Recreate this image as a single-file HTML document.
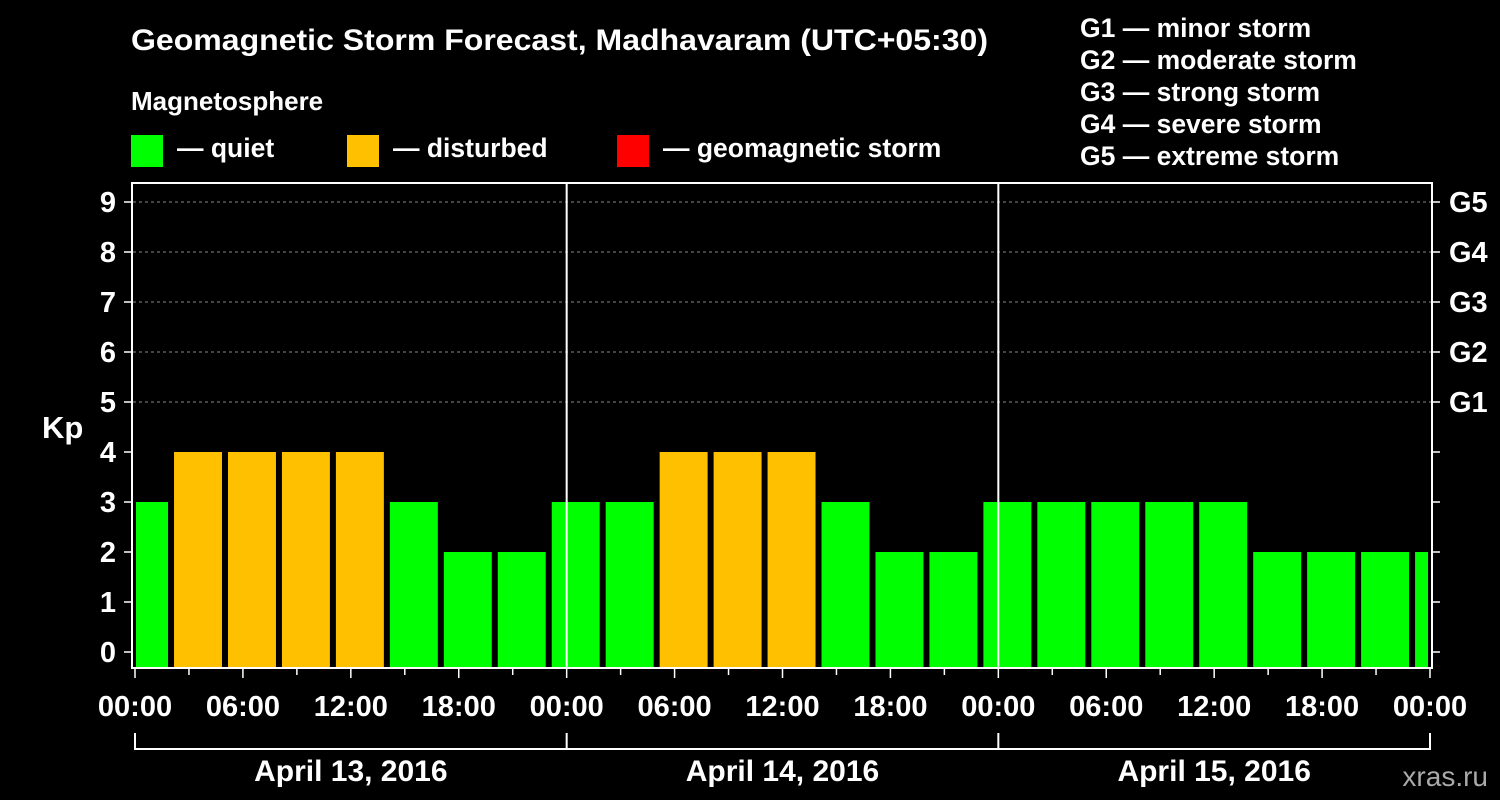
<!DOCTYPE html>
<html><head><meta charset="utf-8"><style>
html,body{margin:0;padding:0;background:#000;}
svg{display:block;font-family:"Liberation Sans",sans-serif;font-weight:bold;}
</style></head><body>
<svg id="chart" width="1500" height="800" viewBox="0 0 1500 800" xmlns="http://www.w3.org/2000/svg">
<rect width="1500" height="800" fill="#000"/>
<text x="131" y="50" fill="#fff" font-size="30" textLength="857" lengthAdjust="spacingAndGlyphs">Geomagnetic Storm Forecast, Madhavaram (UTC+05:30)</text>
<text x="131" y="110" fill="#fff" font-size="26">Magnetosphere</text>
<g><rect x="131" y="135" width="32" height="32" fill="#00ff00"/><text x="177" y="157" fill="#fff" font-size="26.5">— quiet</text></g>
<g><rect x="347" y="135" width="32" height="32" fill="#ffc000"/><text x="393" y="157" fill="#fff" font-size="26.5">— disturbed</text></g>
<g><rect x="617" y="135" width="32" height="32" fill="#ff0000"/><text x="663" y="157" fill="#fff" font-size="26.5">— geomagnetic storm</text></g>
<g fill="#fff" font-size="26.5">
<text x="1080" y="37">G1 — minor storm</text>
<text x="1080" y="69">G2 — moderate storm</text>
<text x="1080" y="101">G3 — strong storm</text>
<text x="1080" y="133">G4 — severe storm</text>
<text x="1080" y="165">G5 — extreme storm</text>
</g>
<text x="42" y="438" fill="#fff" font-size="31">Kp</text>
<text x="1488" y="786" fill="#aaa" font-size="28" font-weight="normal" text-anchor="end">xras.ru</text>
<g id="grid"></g>
<g id="bars"></g>
<g id="axes"></g>
</svg>
<script>
const kpValues=[3,4,4,4,4,3,2,2,3,3,4,4,4,3,2,2,3,3,3,3,3,2,2,2,2];
const yTicks=[0,1,2,3,4,5,6,7,8,9];
const gLabels=["G1","G2","G3","G4","G5"];
const xTickLabels=["00:00","06:00","12:00","18:00","00:00","06:00","12:00","18:00","00:00","06:00","12:00","18:00","00:00"];
const dayLabels=["April 13, 2016","April 14, 2016","April 15, 2016"];
const barStartHour=2.17; // start of second 3h period (local time)
const X0=135,X1=1430,HOURS=72;
const xs=h=>X0+(X1-X0)*h/HOURS;
const ys=k=>652-50*k;
const NS="http://www.w3.org/2000/svg";
function mk(tag,attrs,parent){const e=document.createElementNS(NS,tag);for(const k in attrs)e.setAttribute(k,attrs[k]);parent.appendChild(e);return e;}
const grid=document.getElementById('grid'),bars=document.getElementById('bars'),axes=document.getElementById('axes');
const base=667;
kpValues.forEach((v,i)=>{
  let h0=barStartHour+3*(i-1);
  let x0=xs(h0), x1=xs(h0+3)-6;
  x0=Math.max(x0,136); x1=Math.min(x1,1428);
  const col=v>=5?'#ff0000':(v>=4?'#ffc000':'#00ff00');
  const r=mk('rect',{x:x0,y:ys(v),width:Math.max(0,x1-x0),height:base-ys(v),fill:col},bars);
  
  
});
gLabels.forEach((g,i)=>{
  const k=5+i;
  const l=mk('line',{x1:133,x2:1431,y1:ys(k),y2:ys(k),stroke:'#888','stroke-dasharray':'3,3','stroke-width':1},grid);
  
  
  const t=mk('text',{x:1449,y:ys(k)+10,fill:'#fff','font-size':29},axes);
  t.textContent=g;
  
  
});
const fr=mk('rect',{x:132,y:183,width:1300,height:485,fill:'none',stroke:'#fff','stroke-width':2},axes);


[1,2].forEach(d=>{
  const l=mk('line',{x1:xs(24*d),x2:xs(24*d),y1:183,y2:668,stroke:'#fff','stroke-width':2},axes);
  
  
});
yTicks.forEach(k=>{
  mk('line',{x1:124,x2:132,y1:ys(k),y2:ys(k),stroke:'#fff','stroke-width':1.5},axes);
  mk('line',{x1:1432,x2:1440,y1:ys(k),y2:ys(k),stroke:'#fff','stroke-width':1.5},axes);
  const t=mk('text',{x:116,y:ys(k)+10,fill:'#fff','font-size':29,'text-anchor':'end'},axes);
  t.textContent=k;
  
  
});
for(let h=0;h<=HOURS;h+=3){
  const major=h%6===0;
  mk('line',{x1:xs(h),x2:xs(h),y1:668,y2:major?678:675,stroke:'#fff','stroke-width':1.5},axes);
}
xTickLabels.forEach((s,i)=>{
  const t=mk('text',{x:xs(6*i),y:716,fill:'#fff','font-size':29,'text-anchor':'middle'},axes);
  t.textContent=s;
  
  
});
mk('line',{x1:xs(0),x2:xs(72),y1:749,y2:749,stroke:'#fff','stroke-width':2},axes);
for(let d=0;d<=3;d++) mk('line',{x1:xs(24*d),x2:xs(24*d),y1:733,y2:750,stroke:'#fff','stroke-width':2},axes);
dayLabels.forEach((s,i)=>{
  const t=mk('text',{x:xs(24*i+12),y:781,fill:'#fff','font-size':30,'text-anchor':'middle'},axes);
  t.textContent=s;
  
  
});
</script>
</body></html>
